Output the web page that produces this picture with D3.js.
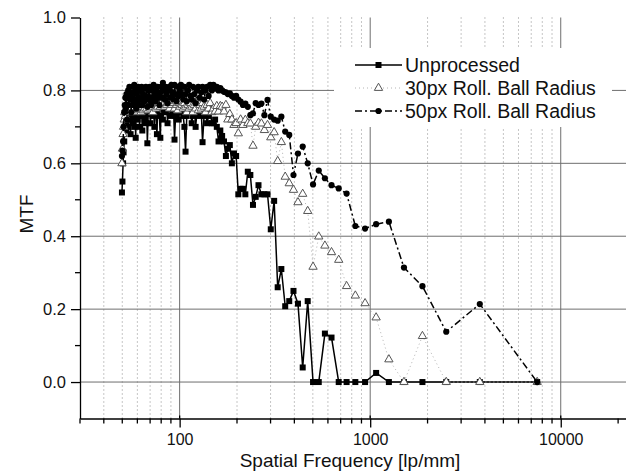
<!DOCTYPE html>
<html>
<head>
<meta charset="utf-8">
<script src="https://cdn.jsdelivr.net/npm/d3@7"></script>
<style>
  html, body { margin: 0; padding: 0; background: #fff; }
  svg text { font-family: "Liberation Sans", Arial, sans-serif; fill: #111; }
</style>
</head>
<body>
<script>
// spatial frequency [lp/mm], ascending
const freq = [
  49.8, 50.1, 50.5, 50.8, 51.2, 51.5, 51.9, 52.2, 52.6, 53.0,
  53.3, 53.7, 54.1, 54.5, 54.9, 55.3, 55.7, 56.1, 56.5, 57.0,
  57.4, 57.8, 58.3, 58.8, 59.2, 59.7, 60.2, 60.6, 61.1, 61.6,
  62.1, 62.7, 63.2, 63.7, 64.3, 64.8, 65.4, 66.0, 66.5, 67.1,
  67.7, 68.4, 69.0, 69.6, 70.3, 70.9, 71.6, 72.3, 73.0, 73.7,
  74.5, 75.2, 76.0, 76.7, 77.5, 78.3, 79.2, 80.0, 80.9, 81.7,
  82.6, 83.6, 84.5, 85.5, 86.4, 87.4, 88.5, 89.5, 90.6, 91.7,
  92.8, 94.0, 95.2, 96.4, 97.7, 98.9, 100.3, 101.6, 103.0, 104.4,
  105.9, 107.4, 109.0, 110.6, 112.2, 113.9, 115.7, 117.5, 119.4, 121.3,
  123.3, 125.3, 127.5, 129.7, 131.9, 134.3, 136.7, 139.3, 141.9, 144.6,
  147.5, 150.4, 153.5, 156.7, 160.0, 163.5, 167.1, 170.9, 174.9, 179.0,
  183.4, 188.0, 192.8, 197.9, 203.2, 208.9, 214.9, 221.2, 227.9, 235.0,
  242.6, 250.7, 259.3, 268.6, 278.5, 289.2, 300.8, 313.3, 327.0, 341.8,
  358.1, 376.0, 395.8, 417.8, 442.4, 470.0, 501.3, 537.1, 578.5, 626.7,
  683.6, 752, 835.6, 940, 1074.3, 1253.3, 1504, 1880, 2506.7, 3760,
  7520
];

const unprocessed = [
  0.52, 0.55, 0.60, 0.63, 0.66, 0.70, 0.74, 0.72, 0.69, 0.76,
  0.73, 0.70, 0.77, 0.72, 0.75, 0.68, 0.76, 0.775, 0.71, 0.745,
  0.76, 0.70, 0.735, 0.67, 0.755, 0.77, 0.72, 0.745, 0.775, 0.70,
  0.755, 0.73, 0.77, 0.69, 0.745, 0.765, 0.72, 0.755, 0.71, 0.75,
  0.655, 0.735, 0.765, 0.745, 0.71, 0.76, 0.775, 0.73, 0.755, 0.70,
  0.765, 0.74, 0.68, 0.755, 0.775, 0.73, 0.67, 0.755, 0.765, 0.72,
  0.75, 0.775, 0.74, 0.76, 0.71, 0.765, 0.755, 0.73, 0.77, 0.74,
  0.76, 0.665, 0.73, 0.765, 0.755, 0.72, 0.76, 0.74, 0.765, 0.73,
  0.70, 0.632, 0.73, 0.755, 0.74, 0.76, 0.71, 0.73, 0.755, 0.70,
  0.74, 0.76, 0.73, 0.75, 0.658, 0.73, 0.745, 0.71, 0.73, 0.75,
  0.71, 0.71, 0.72, 0.70, 0.66, 0.69, 0.675, 0.66, 0.62, 0.64,
  0.65, 0.60, 0.627, 0.62, 0.515, 0.53, 0.53, 0.515, 0.577, 0.568,
  0.486, 0.508, 0.54, 0.515, 0.515, 0.515, 0.419, 0.497, 0.26, 0.31,
  0.208, 0.222, 0.25, 0.215, 0.04, 0.222, 0, 0, 0.133, 0.122,
  0, 0, 0, 0, 0.025, 0, 0, 0, 0, 0,
  0
];

const roll30 = [
  0.60, 0.64, 0.68, 0.70, 0.72, 0.74, 0.73, 0.75, 0.76, 0.74,
  0.755, 0.77, 0.75, 0.76, 0.74, 0.765, 0.75, 0.77, 0.745, 0.76,
  0.75, 0.765, 0.74, 0.76, 0.75, 0.77, 0.755, 0.745, 0.765, 0.75,
  0.76, 0.74, 0.77, 0.755, 0.745, 0.765, 0.75, 0.76, 0.775, 0.75,
  0.765, 0.745, 0.76, 0.77, 0.75, 0.765, 0.755, 0.74, 0.765, 0.775,
  0.76, 0.75, 0.77, 0.755, 0.765, 0.78, 0.755, 0.77, 0.76, 0.78,
  0.765, 0.755, 0.775, 0.76, 0.78, 0.765, 0.75, 0.77, 0.76, 0.775,
  0.765, 0.75, 0.77, 0.76, 0.745, 0.765, 0.755, 0.77, 0.76, 0.75,
  0.765, 0.755, 0.74, 0.76, 0.75, 0.765, 0.755, 0.74, 0.76, 0.75,
  0.765, 0.745, 0.76, 0.75, 0.765, 0.755, 0.74, 0.76, 0.75, 0.765,
  0.74, 0.75, 0.742, 0.757, 0.742, 0.757, 0.755, 0.742, 0.76, 0.72,
  0.735, 0.72, 0.705, 0.71, 0.682, 0.72, 0.705, 0.719, 0.71, 0.709,
  0.648, 0.70, 0.711, 0.709, 0.691, 0.705, 0.671, 0.685, 0.606, 0.658,
  0.563, 0.545, 0.527, 0.493, 0.516, 0.469, 0.316, 0.399, 0.374, 0.356,
  0.335, 0.263, 0.237, 0.216, 0.177, 0.062, 0, 0.126, 0, 0,
  0
];

const roll50 = [
  0.62, 0.635, 0.66, 0.70, 0.74, 0.76, 0.78, 0.75, 0.79, 0.72,
  0.78, 0.80, 0.76, 0.81, 0.775, 0.795, 0.74, 0.78, 0.81, 0.76,
  0.795, 0.815, 0.77, 0.80, 0.75, 0.79, 0.765, 0.81, 0.78, 0.76,
  0.80, 0.775, 0.81, 0.76, 0.79, 0.805, 0.77, 0.785, 0.81, 0.775,
  0.755, 0.80, 0.78, 0.81, 0.77, 0.76, 0.80, 0.78, 0.815, 0.79,
  0.77, 0.80, 0.78, 0.81, 0.785, 0.76, 0.795, 0.81, 0.78, 0.821,
  0.80, 0.775, 0.81, 0.79, 0.765, 0.80, 0.81, 0.78, 0.815, 0.795,
  0.775, 0.815, 0.79, 0.77, 0.81, 0.785, 0.80, 0.815, 0.79, 0.775,
  0.81, 0.79, 0.77, 0.80, 0.815, 0.785, 0.775, 0.81, 0.79, 0.765,
  0.80, 0.81, 0.78, 0.795, 0.81, 0.775, 0.80, 0.81, 0.785, 0.815,
  0.80, 0.815, 0.805, 0.81, 0.80, 0.806, 0.80, 0.796, 0.795, 0.79,
  0.792, 0.785, 0.78, 0.785, 0.775, 0.769, 0.76, 0.764, 0.755, 0.732,
  0.737, 0.765, 0.76, 0.764, 0.732, 0.774, 0.728, 0.72, 0.717, 0.728,
  0.687, 0.678, 0.568, 0.627, 0.646, 0.60, 0.542, 0.58, 0.559, 0.54,
  0.531, 0.517, 0.428, 0.421, 0.433, 0.44, 0.314, 0.263, 0.138, 0.214,
  0
];

const seriesNames = ['Unprocessed', '30px Roll. Ball Radius', '50px Roll. Ball Radius'];
const yTicks = [0, 0.2, 0.4, 0.6, 0.8, 1.0];
const yMinor = [0.1, 0.3, 0.5, 0.7, 0.9];
const gridY = [0, 0.2, 0.4, 0.6, 0.8];
const xTicks = [100, 1000, 10000];
const xMinor = [30, 40, 50, 60, 70, 80, 90, 200, 300, 400, 500, 600, 700, 800, 900,
                2000, 3000, 4000, 5000, 6000, 7000, 8000, 9000, 20000];

const W = 626, H = 474;
const svg = d3.select('body').append('svg')
    .attr('width', W)
    .attr('height', H);

const x = d3.scaleLog().domain([30, 22000]).range([80, 626]);
const y = d3.scaleLinear().domain([-0.1, 1.0]).range([418.5, 17.5]);

// grid
const grid = svg.append('g');
grid.selectAll('line.minor')
    .data(xMinor.filter(d => d > 30 && d < 20000))
    .join('line')
    .attr('x1', d => x(d)).attr('x2', d => x(d))
    .attr('y1', y(1.0)).attr('y2', y(-0.1))
    .attr('stroke', '#8c8c8c')
    .attr('stroke-width', 1)
    .attr('stroke-dasharray', '1,3');
grid.selectAll('line.major')
    .data(xTicks)
    .join('line')
    .attr('x1', d => x(d)).attr('x2', d => x(d))
    .attr('y1', y(1.0)).attr('y2', y(-0.1))
    .attr('stroke', '#6e6e6e')
    .attr('stroke-width', 1);
grid.selectAll('line.h')
    .data(gridY)
    .join('line')
    .attr('x1', x(30)).attr('x2', W)
    .attr('y1', d => y(d)).attr('y2', d => y(d))
    .attr('stroke', '#6e6e6e')
    .attr('stroke-width', 1);

// legend background hides the grid
svg.append('rect')
    .attr('x', 334).attr('y', 48)
    .attr('width', 278).attr('height', 79)
    .attr('fill', '#fff');

const pts = (vals) => freq.map((f, i) => ({f, v: vals[i]}));
const line = d3.line().x(d => x(d.f)).y(d => y(d.v));

const triangle = d3.symbol().type(d3.symbolTriangle).size(30);

// unprocessed
svg.append('path')
    .attr('d', line(pts(unprocessed)))
    .attr('fill', 'none')
    .attr('stroke', '#000')
    .attr('stroke-width', 1.5);
svg.append('g').selectAll('rect')
    .data(pts(unprocessed))
    .join('rect')
    .attr('x', d => x(d.f) - 3).attr('y', d => y(d.v) - 3)
    .attr('width', 6).attr('height', 6)
    .attr('fill', '#000');

// 30px rolling ball
svg.append('path')
    .attr('d', line(pts(roll30)))
    .attr('fill', 'none')
    .attr('stroke', '#b4b4b4')
    .attr('stroke-width', 1)
    .attr('stroke-dasharray', '1,3');
svg.append('g').selectAll('path')
    .data(pts(roll30))
    .join('path')
    .attr('d', triangle)
    .attr('transform', d => `translate(${x(d.f)},${y(d.v)})`)
    .attr('fill', '#fff')
    .attr('stroke', '#555')
    .attr('stroke-width', 1);

// 50px rolling ball
svg.append('path')
    .attr('d', line(pts(roll50)))
    .attr('fill', 'none')
    .attr('stroke', '#000')
    .attr('stroke-width', 1.5)
    .attr('stroke-dasharray', '7,3,2,3');
svg.append('g').selectAll('circle')
    .data(pts(roll50))
    .join('circle')
    .attr('cx', d => x(d.f)).attr('cy', d => y(d.v))
    .attr('r', 3.1)
    .attr('fill', '#000');

// axes
const yAxis = d3.axisLeft(y)
    .tickValues(yTicks)
    .tickFormat(d3.format('.1f'))
    .tickSize(9)
    .tickPadding(5)
    .tickSizeOuter(0);
const gy = svg.append('g')
    .attr('transform', `translate(${x(30)},0)`)
    .call(yAxis);
gy.selectAll('line, path').attr('stroke', '#000').attr('stroke-width', 1.3);
gy.selectAll('text')
    .attr('font-size', 16.5)
    .attr('font-family', '"Liberation Sans", Arial, sans-serif');
gy.selectAll('line.minor')
    .data(yMinor)
    .join('line')
    .attr('x1', -5).attr('x2', 0)
    .attr('y1', d => y(d)).attr('y2', d => y(d))
    .attr('stroke', '#000').attr('stroke-width', 1.3);

const xAxis = d3.axisBottom(x)
    .tickValues(xTicks)
    .tickFormat(d3.format('d'))
    .tickSize(9)
    .tickPadding(6)
    .tickSizeOuter(0);
const gx = svg.append('g')
    .attr('transform', `translate(0,${y(-0.1)})`)
    .call(xAxis);
gx.selectAll('line, path').attr('stroke', '#000').attr('stroke-width', 1.3);
gx.selectAll('text')
    .attr('font-size', 16)
    .attr('font-family', '"Liberation Sans", Arial, sans-serif');
gx.selectAll('line.minor')
    .data(xMinor)
    .join('line')
    .attr('x1', d => x(d)).attr('x2', d => x(d))
    .attr('y1', 0).attr('y2', 5)
    .attr('stroke', '#000').attr('stroke-width', 1.3);
gx.selectAll('line.up')
    .data(xTicks)
    .join('line')
    .attr('x1', d => x(d)).attr('x2', d => x(d))
    .attr('y1', -3).attr('y2', 0)
    .attr('stroke', '#000').attr('stroke-width', 1.3);

// axis titles
svg.append('text')
    .attr('x', 350).attr('y', 467)
    .attr('text-anchor', 'middle')
    .attr('font-size', 19)
    .text('Spatial Frequency [lp/mm]');
svg.append('text')
    .attr('transform', 'translate(33,214) rotate(-90)')
    .attr('text-anchor', 'middle')
    .attr('font-size', 19)
    .text('MTF');

// legend
const legend = svg.append('g');
seriesNames.forEach((name, i) => {
    const ly = 65 + i * 23;
    const g = legend.append('g');
    const l = g.append('line')
        .attr('x1', 355).attr('x2', 402)
        .attr('y1', ly).attr('y2', ly);
    if (i === 0) {
        l.attr('stroke', '#000').attr('stroke-width', 1.5);
        g.append('rect').attr('x', 375.5).attr('y', ly - 3)
            .attr('width', 6).attr('height', 6).attr('fill', '#000');
    } else if (i === 1) {
        l.attr('stroke', '#b4b4b4').attr('stroke-width', 1).attr('stroke-dasharray', '1,3');
        g.append('path').attr('d', triangle)
            .attr('transform', `translate(378.5,${ly})`)
            .attr('fill', '#fff').attr('stroke', '#555');
    } else {
        l.attr('stroke', '#000').attr('stroke-width', 1.5).attr('stroke-dasharray', '7,3,2,3');
        g.append('circle').attr('cx', 378.5).attr('cy', ly).attr('r', 3.1).attr('fill', '#000');
    }
    g.append('text')
        .attr('x', 405).attr('y', ly + 7)
        .attr('font-size', 19.5)
        .text(name);
});
</script>
</body>
</html>
